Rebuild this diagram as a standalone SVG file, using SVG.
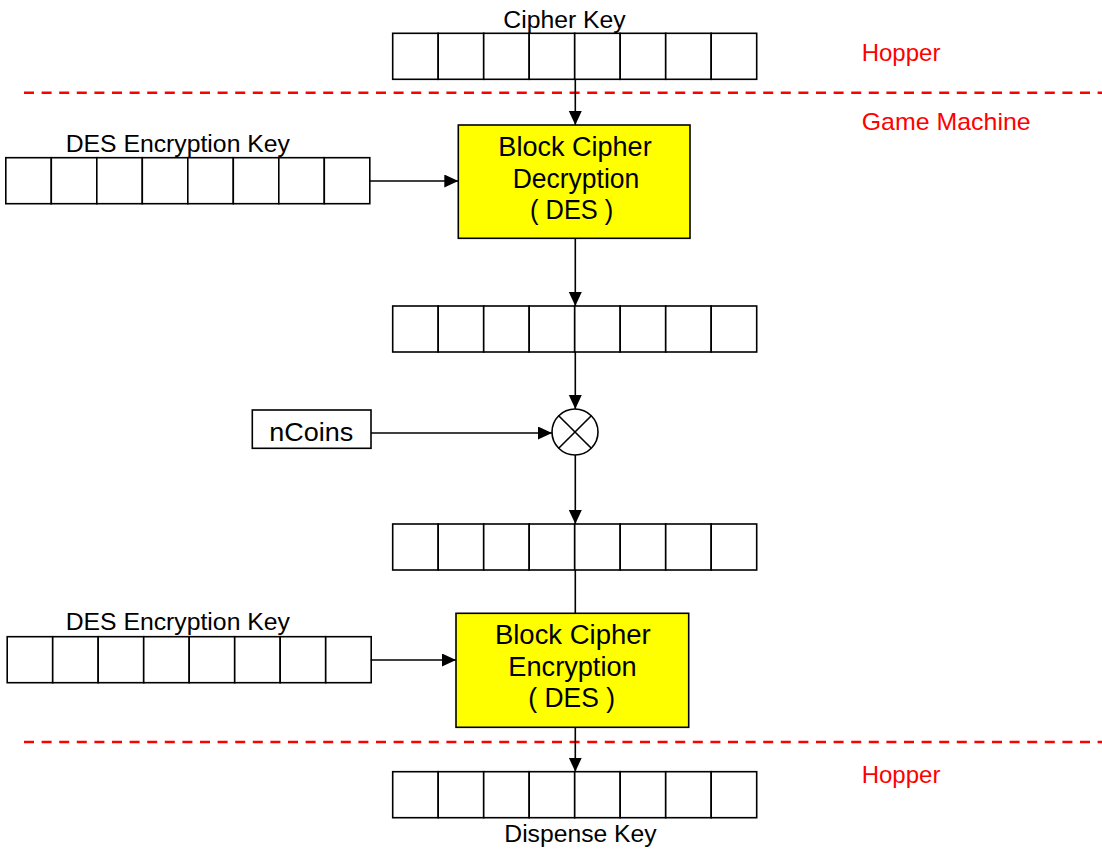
<svg xmlns="http://www.w3.org/2000/svg" xmlns:xlink="http://www.w3.org/1999/xlink" width="1102" height="850" viewBox="0 0 1102 850">
<style>
  .cell { fill: #ffffff; stroke: #000000; stroke-width: 1.6; }
  .box { fill: #ffff00; stroke: #000000; stroke-width: 1.6; }
  .plain { fill: #ffffff; stroke: #000000; stroke-width: 1.6; }
  .conn { fill: none; stroke: #000000; stroke-width: 1.6; }
  .arrow { marker-end: url(#ah); }
  .dash { fill: none; stroke: #ff0000; stroke-width: 2.4; stroke-dasharray: 10 7.6; }
  .t { font-family: "Liberation Sans", Arial, sans-serif; fill: #000000; }
  .lbl { font-size: 23px; }
  .big { font-size: 27px; text-anchor: middle; }
  .red { font-family: "Liberation Sans", Arial, sans-serif; fill: #ff0000; font-size: 24px; }
</style>
<defs>
  <marker id="ah" markerUnits="userSpaceOnUse" markerWidth="15" markerHeight="14" refX="14" refY="6.5" orient="auto">
    <path d="M0,0 L14,6.5 L0,13 Z" fill="#000000"/>
  </marker>
  <g id="row8">
    <rect class="cell" x="0" y="0" width="45.5" height="46"/>
    <rect class="cell" x="45.5" y="0" width="45.5" height="46"/>
    <rect class="cell" x="91" y="0" width="45.5" height="46"/>
    <rect class="cell" x="136.5" y="0" width="45.5" height="46"/>
    <rect class="cell" x="182" y="0" width="45.5" height="46"/>
    <rect class="cell" x="227.5" y="0" width="45.5" height="46"/>
    <rect class="cell" x="273" y="0" width="45.5" height="46"/>
    <rect class="cell" x="318.5" y="0" width="45.5" height="46"/>
  </g>
</defs>

<rect x="0" y="0" width="1102" height="850" fill="#ffffff"/>

<g id="boundaries">
  <line class="dash" x1="24" y1="92.7" x2="1102" y2="92.7"/>
  <line class="dash" x1="24" y1="742" x2="1102" y2="742"/>
  <text class="red" x="861.7" y="60.7">Hopper</text>
  <text class="red" x="861.7" y="130" textLength="169" lengthAdjust="spacingAndGlyphs">Game Machine</text>
  <text class="red" x="861.7" y="783.3">Hopper</text>
</g>

<g id="cipher-key">
  <use xlink:href="#row8" x="392.7" y="33.3"/>
  <text class="t lbl" x="564.5" y="28" text-anchor="middle" textLength="122.4" lengthAdjust="spacingAndGlyphs">Cipher Key</text>
</g>

<g id="des-key-1">
  <use xlink:href="#row8" x="5.8" y="157.7"/>
  <text class="t lbl" x="177.8" y="151.7" text-anchor="middle" textLength="224.3" lengthAdjust="spacingAndGlyphs">DES Encryption Key</text>
</g>

<g id="decryption">
  <rect class="box" x="458.3" y="125" width="231.7" height="113.3"/>
  <text class="t big" x="575" y="156" textLength="153.3" lengthAdjust="spacingAndGlyphs">Block Cipher</text>
  <text class="t big" x="576" y="187.5" textLength="126.7" lengthAdjust="spacingAndGlyphs">Decryption</text>
  <text class="t big" x="571.7" y="219" textLength="83.3" lengthAdjust="spacingAndGlyphs">( DES )</text>
</g>

<g id="block-2">
  <use xlink:href="#row8" x="392.7" y="306"/>
</g>

<g id="ncoins">
  <rect class="plain" x="252.3" y="410" width="118.7" height="38.3"/>
  <text class="t" x="311.3" y="440.5" font-size="26" text-anchor="middle" textLength="84" lengthAdjust="spacingAndGlyphs">nCoins</text>
</g>

<g id="multiply">
  <circle class="plain" cx="575" cy="432" r="23"/>
  <line class="conn" x1="558.7" y1="415.7" x2="591.3" y2="448.3"/>
  <line class="conn" x1="591.3" y1="415.7" x2="558.7" y2="448.3"/>
</g>

<g id="block-3">
  <use xlink:href="#row8" x="392.7" y="524"/>
</g>

<g id="des-key-2">
  <use xlink:href="#row8" x="7.2" y="636.7"/>
  <text class="t lbl" x="177.8" y="630" text-anchor="middle" textLength="224.3" lengthAdjust="spacingAndGlyphs">DES Encryption Key</text>
</g>

<g id="encryption">
  <rect class="box" x="456" y="613.3" width="232.7" height="114"/>
  <text class="t big" x="572.8" y="644" textLength="155.7" lengthAdjust="spacingAndGlyphs">Block Cipher</text>
  <text class="t big" x="572.5" y="675.5" textLength="128.3" lengthAdjust="spacingAndGlyphs">Encryption</text>
  <text class="t big" x="571.7" y="707" textLength="86.7" lengthAdjust="spacingAndGlyphs">( DES )</text>
</g>

<g id="dispense-key">
  <use xlink:href="#row8" x="392.7" y="771.7"/>
  <text class="t lbl" x="580.5" y="841.7" text-anchor="middle" textLength="152.4" lengthAdjust="spacingAndGlyphs">Dispense Key</text>
</g>

<g id="connectors">
  <line class="conn arrow" x1="575.3" y1="80" x2="575.3" y2="125"/>
  <line class="conn arrow" x1="369" y1="181" x2="458.3" y2="181"/>
  <line class="conn arrow" x1="575.3" y1="238.3" x2="575.3" y2="306"/>
  <line class="conn arrow" x1="575.3" y1="351.7" x2="575.3" y2="409"/>
  <line class="conn arrow" x1="371" y1="433" x2="552" y2="433"/>
  <line class="conn arrow" x1="575.3" y1="455" x2="575.3" y2="524"/>
  <line class="conn" x1="575.3" y1="570" x2="575.3" y2="613.3"/>
  <line class="conn arrow" x1="370.7" y1="660" x2="456" y2="660"/>
  <line class="conn arrow" x1="575.3" y1="727.3" x2="575.3" y2="771.7"/>
</g>
</svg>
